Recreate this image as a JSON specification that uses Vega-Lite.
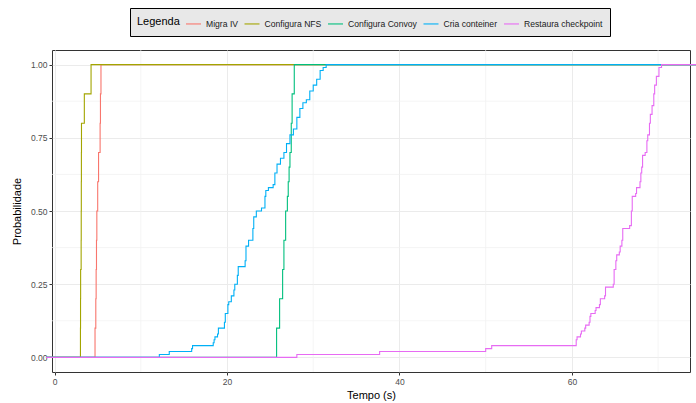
{
  "$schema": "https://vega.github.io/schema/vega-lite/v6.json",
  "autosize": {"type": "none"},
  "width": 638,
  "height": 322,
  "padding": {"left": 52, "top": 50, "right": 6, "bottom": 31},
  "background": "white",
  "config": {
    "font": "Liberation Sans",
    "view": {"stroke": "#333333", "strokeWidth": 1},
    "axis": {
      "grid": true,
      "gridColor": "#EBEBEB",
      "gridWidth": 1,
      "tickColor": "#333333",
      "tickSize": 3,
      "domain": false,
      "labelColor": "#4D4D4D",
      "labelFontSize": 8.5,
      "labelPadding": 2,
      "titleFontSize": 11,
      "titleFontWeight": "normal",
      "titleColor": "#000000"
    },
    "line": {"interpolate": "step-after", "strokeWidth": 1.1, "clip": true}
  },
  "datasets": {
    "ecdf": [
      {"s": "Migra IV", "x": -1, "y": 0},
      {"s": "Migra IV", "x": 4.69, "y": 0.1},
      {"s": "Migra IV", "x": 4.78, "y": 0.2},
      {"s": "Migra IV", "x": 4.82, "y": 0.3},
      {"s": "Migra IV", "x": 4.86, "y": 0.4},
      {"s": "Migra IV", "x": 4.9, "y": 0.5},
      {"s": "Migra IV", "x": 5.0, "y": 0.6},
      {"s": "Migra IV", "x": 5.1, "y": 0.7},
      {"s": "Migra IV", "x": 5.28, "y": 0.8},
      {"s": "Migra IV", "x": 5.32, "y": 0.9},
      {"s": "Migra IV", "x": 5.38, "y": 1.0},
      {"s": "Migra IV", "x": 75, "y": 1.0},

      {"s": "Configura NFS", "x": -1, "y": 0},
      {"s": "Configura NFS", "x": 3.0, "y": 0.1},
      {"s": "Configura NFS", "x": 3.01, "y": 0.2},
      {"s": "Configura NFS", "x": 3.02, "y": 0.3},
      {"s": "Configura NFS", "x": 3.08, "y": 0.4},
      {"s": "Configura NFS", "x": 3.09, "y": 0.5},
      {"s": "Configura NFS", "x": 3.1, "y": 0.6},
      {"s": "Configura NFS", "x": 3.11, "y": 0.7},
      {"s": "Configura NFS", "x": 3.12, "y": 0.8},
      {"s": "Configura NFS", "x": 3.45, "y": 0.9},
      {"s": "Configura NFS", "x": 4.23, "y": 1.0},
      {"s": "Configura NFS", "x": 75, "y": 1.0},

      {"s": "Configura Convoy", "x": -1, "y": 0},
      {"s": "Configura Convoy", "x": 25.75, "y": 0.1},
      {"s": "Configura Convoy", "x": 26.1, "y": 0.2},
      {"s": "Configura Convoy", "x": 26.45, "y": 0.3},
      {"s": "Configura Convoy", "x": 26.6, "y": 0.4},
      {"s": "Configura Convoy", "x": 26.8, "y": 0.5},
      {"s": "Configura Convoy", "x": 27.0, "y": 0.55},
      {"s": "Configura Convoy", "x": 27.1, "y": 0.6},
      {"s": "Configura Convoy", "x": 27.2, "y": 0.65},
      {"s": "Configura Convoy", "x": 27.3, "y": 0.7},
      {"s": "Configura Convoy", "x": 27.45, "y": 0.8},
      {"s": "Configura Convoy", "x": 27.55, "y": 0.9},
      {"s": "Configura Convoy", "x": 27.8, "y": 1.0},
      {"s": "Configura Convoy", "x": 75, "y": 1.0},

      {"s": "Cria conteiner", "x": -1, "y": 0},
      {"s": "Cria conteiner", "x": 12.15, "y": 0.01},
      {"s": "Cria conteiner", "x": 13.3, "y": 0.02},
      {"s": "Cria conteiner", "x": 15.9, "y": 0.03},
      {"s": "Cria conteiner", "x": 16.0, "y": 0.04},
      {"s": "Cria conteiner", "x": 18.4, "y": 0.05},
      {"s": "Cria conteiner", "x": 18.5, "y": 0.06},
      {"s": "Cria conteiner", "x": 18.6, "y": 0.07},
      {"s": "Cria conteiner", "x": 18.9, "y": 0.08},
      {"s": "Cria conteiner", "x": 19.0, "y": 0.10},
      {"s": "Cria conteiner", "x": 19.7, "y": 0.12},
      {"s": "Cria conteiner", "x": 19.8, "y": 0.15},
      {"s": "Cria conteiner", "x": 20.1, "y": 0.18},
      {"s": "Cria conteiner", "x": 20.2, "y": 0.19},
      {"s": "Cria conteiner", "x": 20.5, "y": 0.21},
      {"s": "Cria conteiner", "x": 20.8, "y": 0.23},
      {"s": "Cria conteiner", "x": 20.9, "y": 0.25},
      {"s": "Cria conteiner", "x": 21.2, "y": 0.28},
      {"s": "Cria conteiner", "x": 21.3, "y": 0.31},
      {"s": "Cria conteiner", "x": 22.1, "y": 0.33},
      {"s": "Cria conteiner", "x": 22.2, "y": 0.38},
      {"s": "Cria conteiner", "x": 22.5, "y": 0.40},
      {"s": "Cria conteiner", "x": 23.0, "y": 0.44},
      {"s": "Cria conteiner", "x": 23.1, "y": 0.48},
      {"s": "Cria conteiner", "x": 23.4, "y": 0.50},
      {"s": "Cria conteiner", "x": 24.0, "y": 0.51},
      {"s": "Cria conteiner", "x": 24.4, "y": 0.55},
      {"s": "Cria conteiner", "x": 24.5, "y": 0.57},
      {"s": "Cria conteiner", "x": 24.8, "y": 0.58},
      {"s": "Cria conteiner", "x": 25.35, "y": 0.59},
      {"s": "Cria conteiner", "x": 25.55, "y": 0.63},
      {"s": "Cria conteiner", "x": 25.8, "y": 0.66},
      {"s": "Cria conteiner", "x": 26.2, "y": 0.68},
      {"s": "Cria conteiner", "x": 26.6, "y": 0.70},
      {"s": "Cria conteiner", "x": 26.9, "y": 0.73},
      {"s": "Cria conteiner", "x": 27.3, "y": 0.76},
      {"s": "Cria conteiner", "x": 27.7, "y": 0.78},
      {"s": "Cria conteiner", "x": 28.1, "y": 0.82},
      {"s": "Cria conteiner", "x": 28.45, "y": 0.85},
      {"s": "Cria conteiner", "x": 28.8, "y": 0.87},
      {"s": "Cria conteiner", "x": 29.2, "y": 0.88},
      {"s": "Cria conteiner", "x": 29.6, "y": 0.91},
      {"s": "Cria conteiner", "x": 30.0, "y": 0.93},
      {"s": "Cria conteiner", "x": 30.4, "y": 0.95},
      {"s": "Cria conteiner", "x": 30.8, "y": 0.98},
      {"s": "Cria conteiner", "x": 31.15, "y": 0.99},
      {"s": "Cria conteiner", "x": 31.5, "y": 1.0},
      {"s": "Cria conteiner", "x": 75, "y": 1.0},

      {"s": "Restaura checkpoint", "x": -1, "y": 0},
      {"s": "Restaura checkpoint", "x": 28.1, "y": 0.01},
      {"s": "Restaura checkpoint", "x": 37.7, "y": 0.02},
      {"s": "Restaura checkpoint", "x": 50.0, "y": 0.03},
      {"s": "Restaura checkpoint", "x": 50.7, "y": 0.04},
      {"s": "Restaura checkpoint", "x": 60.5, "y": 0.06},
      {"s": "Restaura checkpoint", "x": 60.6, "y": 0.07},
      {"s": "Restaura checkpoint", "x": 61.0, "y": 0.08},
      {"s": "Restaura checkpoint", "x": 61.1, "y": 0.09},
      {"s": "Restaura checkpoint", "x": 61.5, "y": 0.10},
      {"s": "Restaura checkpoint", "x": 61.6, "y": 0.11},
      {"s": "Restaura checkpoint", "x": 62.0, "y": 0.12},
      {"s": "Restaura checkpoint", "x": 62.1, "y": 0.14},
      {"s": "Restaura checkpoint", "x": 62.2, "y": 0.15},
      {"s": "Restaura checkpoint", "x": 62.7, "y": 0.16},
      {"s": "Restaura checkpoint", "x": 62.8, "y": 0.17},
      {"s": "Restaura checkpoint", "x": 63.2, "y": 0.18},
      {"s": "Restaura checkpoint", "x": 63.3, "y": 0.20},
      {"s": "Restaura checkpoint", "x": 63.8, "y": 0.21},
      {"s": "Restaura checkpoint", "x": 63.9, "y": 0.24},
      {"s": "Restaura checkpoint", "x": 64.8, "y": 0.25},
      {"s": "Restaura checkpoint", "x": 64.9, "y": 0.30},
      {"s": "Restaura checkpoint", "x": 65.1, "y": 0.33},
      {"s": "Restaura checkpoint", "x": 65.2, "y": 0.35},
      {"s": "Restaura checkpoint", "x": 65.5, "y": 0.36},
      {"s": "Restaura checkpoint", "x": 65.6, "y": 0.38},
      {"s": "Restaura checkpoint", "x": 65.8, "y": 0.40},
      {"s": "Restaura checkpoint", "x": 65.9, "y": 0.44},
      {"s": "Restaura checkpoint", "x": 66.7, "y": 0.45},
      {"s": "Restaura checkpoint", "x": 66.9, "y": 0.50},
      {"s": "Restaura checkpoint", "x": 67.0, "y": 0.55},
      {"s": "Restaura checkpoint", "x": 67.4, "y": 0.56},
      {"s": "Restaura checkpoint", "x": 67.5, "y": 0.58},
      {"s": "Restaura checkpoint", "x": 67.9, "y": 0.60},
      {"s": "Restaura checkpoint", "x": 68.0, "y": 0.63},
      {"s": "Restaura checkpoint", "x": 68.1, "y": 0.65},
      {"s": "Restaura checkpoint", "x": 68.2, "y": 0.69},
      {"s": "Restaura checkpoint", "x": 68.5, "y": 0.70},
      {"s": "Restaura checkpoint", "x": 68.7, "y": 0.74},
      {"s": "Restaura checkpoint", "x": 68.8, "y": 0.76},
      {"s": "Restaura checkpoint", "x": 69.0, "y": 0.80},
      {"s": "Restaura checkpoint", "x": 69.1, "y": 0.83},
      {"s": "Restaura checkpoint", "x": 69.3, "y": 0.86},
      {"s": "Restaura checkpoint", "x": 69.5, "y": 0.90},
      {"s": "Restaura checkpoint", "x": 69.6, "y": 0.93},
      {"s": "Restaura checkpoint", "x": 69.8, "y": 0.96},
      {"s": "Restaura checkpoint", "x": 70.1, "y": 0.99},
      {"s": "Restaura checkpoint", "x": 70.4, "y": 1.0},
      {"s": "Restaura checkpoint", "x": 75, "y": 1.0}
    ]
  },
  "encoding": {
    "x": {
      "field": "x",
      "type": "quantitative",
      "title": "Tempo (s)",
      "scale": {"domain": [-0.3, 73.7], "nice": false, "zero": false},
      "axis": {"values": [0, 20, 40, 60], "titlePadding": 4}
    },
    "y": {
      "field": "y",
      "type": "quantitative",
      "title": "Probabilidade",
      "scale": {"domain": [-0.05, 1.05], "nice": false, "zero": false},
      "axis": {"values": [0, 0.25, 0.5, 0.75, 1], "format": ".2f", "titlePadding": 8}
    },
    "color": {
      "field": "s",
      "type": "nominal",
      "title": "Legenda",
      "scale": {
        "domain": ["Migra IV", "Configura NFS", "Configura Convoy", "Cria conteiner", "Restaura checkpoint"],
        "range": ["#F8766D", "#A3A500", "#00BF7D", "#00B0F6", "#E76BF3"]
      },
      "legend": {
        "title": "Legenda",
        "orient": "none",
        "legendX": 78,
        "legendY": -42,
        "direction": "horizontal",
        "columns": 5,
        "titleOrient": "left",
        "titleFontSize": 11,
        "titleFontWeight": "normal",
        "titleColor": "#000000",
        "titlePadding": 5,
        "labelFontSize": 8.6,
        "labelColor": "#1A1A1A",
        "labelOffset": 4,
        "symbolType": "stroke",
        "symbolStrokeWidth": 1.5,
        "symbolSize": 225,
        "columnPadding": 3.5,
        "padding": 7,
        "fillColor": "#E8E8E8",
        "strokeColor": "#000000",
        "encode": {"legend": {"update": {"strokeWidth": {"value": 2}}}}
      }
    }
  },
  "layer": [
    {
      "data": {"values": [{"x": 10}, {"x": 30}, {"x": 50}, {"x": 70}]},
      "mark": {"type": "rule", "color": "#F0F0F0", "strokeWidth": 0.7},
      "encoding": {"y": null, "color": null}
    },
    {
      "data": {"values": [{"y": 0.125}, {"y": 0.375}, {"y": 0.625}, {"y": 0.875}]},
      "mark": {"type": "rule", "color": "#F0F0F0", "strokeWidth": 0.7},
      "encoding": {"x": null, "color": null}
    },
    {
      "data": {"name": "ecdf"},
      "transform": [{"filter": "datum.s === 'Migra IV'"}],
      "mark": {"type": "line"}
    },
    {
      "data": {"name": "ecdf"},
      "transform": [{"filter": "datum.s === 'Configura NFS'"}],
      "mark": {"type": "line"}
    },
    {
      "data": {"name": "ecdf"},
      "transform": [{"filter": "datum.s === 'Configura Convoy'"}],
      "mark": {"type": "line"}
    },
    {
      "data": {"name": "ecdf"},
      "transform": [{"filter": "datum.s === 'Cria conteiner'"}],
      "mark": {"type": "line"}
    },
    {
      "data": {"name": "ecdf"},
      "transform": [{"filter": "datum.s === 'Restaura checkpoint'"}],
      "mark": {"type": "line"}
    }
  ]
}
